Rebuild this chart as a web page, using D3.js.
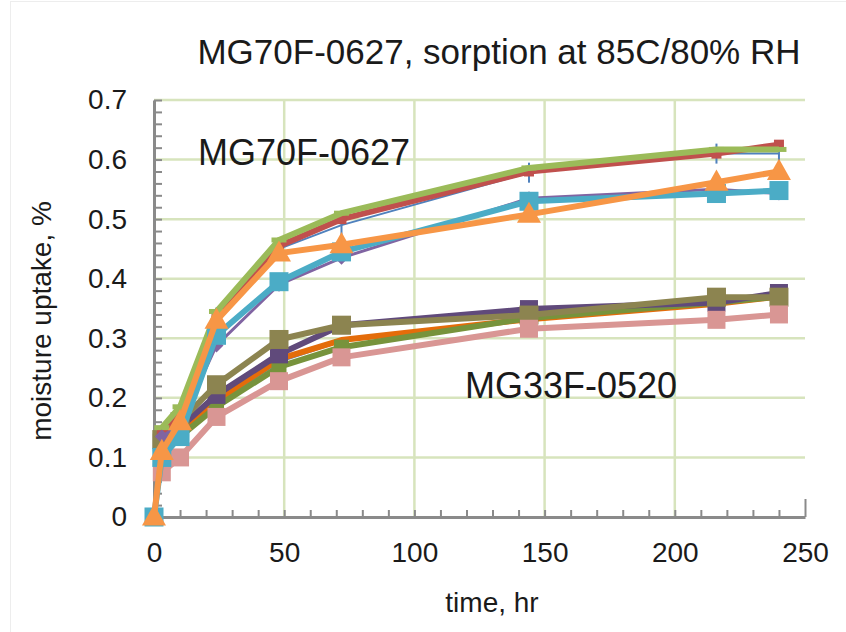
<!DOCTYPE html>
<html>
<head>
<meta charset="utf-8">
<script src="https://cdn.jsdelivr.net/npm/d3@7"></script>
<style>
  body { margin: 0; background: #fff; }
  svg { font-family: "Liberation Sans", Arial, sans-serif; }
</style>
</head>
<body>
<svg id="chart"></svg>
<script>
const width = 846;
const height = 632;

// sampling times, hr
const times = [0, 3, 10, 24, 48, 72, 144, 216, 240];

// MG33F-0520 samples
const g33Blue   = [null, 0.12, 0.14, 0.19, 0.26, 0.295, 0.335, 0.362, 0.37];
const g33Orange = [null, 0.12, 0.145, 0.195, 0.265, 0.297, 0.332, 0.358, 0.37];
const g33Green  = [null, 0.115, 0.135, 0.185, 0.252, 0.285, 0.334, 0.36, 0.37];
const g33Purple = [null, 0.125, 0.15, 0.205, 0.273, 0.322, 0.349, 0.36, 0.376];
const g33Olive  = [null, 0.13, 0.16, 0.222, 0.298, 0.322, 0.339, 0.369, 0.369];
const g33Pink   = [null, 0.075, 0.10, 0.168, 0.228, 0.268, 0.316, 0.331, 0.34];

// MG70F-0627 samples
const g70Blue   = [null, 0.13, 0.165, 0.335, 0.45, 0.49, 0.578, 0.61, 0.61];
const g70Red    = [null, 0.14, 0.17, 0.34, 0.455, 0.50, 0.58, 0.61, 0.625];
const g70Green  = [null, 0.15, 0.185, 0.345, 0.465, 0.51, 0.586, 0.617, 0.617];
const g70Purple = [null, 0.135, 0.155, 0.288, 0.39, 0.435, 0.535, 0.55, 0.543];
const g70Cyan   = [0, 0.10, 0.135, 0.305, 0.395, 0.445, 0.53, 0.543, 0.548];
const g70Orange = [0, 0.11, 0.16, 0.33, 0.443, 0.457, 0.508, 0.562, 0.58];

const xTicks = [0, 50, 100, 150, 200, 250];
const yTicks = [0, 0.1, 0.2, 0.3, 0.4, 0.5, 0.6, 0.7];

// drawing order = Excel series order (later ones sit on top)
const series = [
  { values: g33Blue,   color: "#558ed5", width: 2, marker: "none" },
  { values: g33Orange, color: "#e46c0a", width: 6, marker: "none" },
  { values: g33Green,  color: "#77933c", width: 6, marker: "square", size: 15 },
  { values: g33Purple, color: "#604a7b", width: 6, marker: "square", size: 18 },
  { values: g33Olive,  color: "#8c8450", width: 6, marker: "square", size: 19 },
  { values: g33Pink,   color: "#d99694", width: 6, marker: "square", size: 18 },
  { values: g70Blue,   color: "#4f81bd", width: 2, marker: "bar", size: 20 },
  { values: g70Red,    color: "#c0504d", width: 6, marker: "square", size: 10 },
  { values: g70Green,  color: "#9bbb59", width: 6, marker: "dash", size: 15 },
  { values: g70Purple, color: "#8064a2", width: 3, marker: "diamond", size: 14 },
  { values: g70Cyan,   color: "#4bacc6", width: 6, marker: "square", size: 19 },
  { values: g70Orange, color: "#f79646", width: 6, marker: "triangle", size: 24 }
];

const svg = d3.select("#chart")
  .attr("width", width)
  .attr("height", height);

// faint chart-area border
svg.append("rect")
  .attr("x", 10.5).attr("y", 1.5)
  .attr("width", 850).attr("height", 650)
  .attr("fill", "none")
  .attr("stroke", "#ededed");

const x = d3.scaleLinear().domain([0, 250]).range([154, 805]);
const y = d3.scaleLinear().domain([0, 0.7]).range([517, 100]);

// gridlines
svg.append("g")
  .selectAll("line.hgrid")
  .data(yTicks.slice(1))
  .join("line")
  .attr("x1", x(0)).attr("x2", x(250))
  .attr("y1", d => y(d)).attr("y2", d => y(d))
  .attr("stroke", "#d7e4bd")
  .attr("stroke-width", 2.5);

svg.append("g")
  .selectAll("line.vgrid")
  .data(xTicks.slice(1, -1))
  .join("line")
  .attr("x1", d => x(d)).attr("x2", d => x(d))
  .attr("y1", y(0)).attr("y2", y(0.7))
  .attr("stroke", "#d7e4bd")
  .attr("stroke-width", 2.5);

// minor ticks pointing inward
const xMinor = svg.append("g")
  .attr("transform", `translate(0,${y(0)})`)
  .call(d3.axisBottom(x).tickValues(d3.range(0, 251, 10)).tickSize(-7).tickFormat(""));
xMinor.select(".domain").remove();
xMinor.selectAll("line").attr("stroke", "#8a8a8a").attr("stroke-width", 2);
xMinor.selectAll(".tick").filter(d => d === 250).select("line").attr("y2", -18);

const yMinor = svg.append("g")
  .attr("transform", `translate(${x(0)},0)`)
  .call(d3.axisLeft(y).tickValues(d3.range(0, 0.701, 0.02)).tickSize(-8).tickFormat(""));
yMinor.select(".domain").remove();
yMinor.selectAll("line").attr("stroke", "#8a8a8a").attr("stroke-width", 2);

// axis lines + labels
const xAxis = svg.append("g")
  .attr("transform", `translate(0,${y(0)})`)
  .call(d3.axisBottom(x).tickValues(xTicks).tickSize(0).tickPadding(25));
xAxis.select(".domain").attr("stroke", "#8a8a8a").attr("stroke-width", 3);
xAxis.selectAll("text").attr("font-size", 28).attr("fill", "#1a1a1a")
  .attr("font-family", "Liberation Sans, Arial, sans-serif");

const yAxis = svg.append("g")
  .attr("transform", `translate(${x(0)},0)`)
  .call(d3.axisLeft(y).tickValues(yTicks).tickSize(0).tickPadding(27)
    .tickFormat(d => d === 0 ? "0" : d3.format(".1f")(d)));
yAxis.select(".domain").attr("stroke", "#8a8a8a").attr("stroke-width", 3);
yAxis.selectAll("text").attr("font-size", 28).attr("fill", "#1a1a1a")
  .attr("font-family", "Liberation Sans, Arial, sans-serif");

// series lines
const line = d3.line()
  .defined(d => d.v != null)
  .x(d => x(d.t))
  .y(d => y(d.v));

series.forEach(s => {
  const pts = times.map((t, i) => ({ t: t, v: s.values[i] }));
  const g = svg.append("g");
  g.append("path")
    .datum(pts)
    .attr("d", line)
    .attr("fill", "none")
    .attr("stroke", s.color)
    .attr("stroke-width", s.width)
    .attr("stroke-linejoin", "round");

  const valid = pts.filter(d => d.v != null);
  const sz = s.size;
  if (s.marker === "square") {
    g.selectAll("rect").data(valid).join("rect")
      .attr("x", d => x(d.t) - sz / 2).attr("y", d => y(d.v) - sz / 2)
      .attr("width", sz).attr("height", sz)
      .attr("fill", s.color);
  } else if (s.marker === "dash") {
    g.selectAll("rect").data(valid).join("rect")
      .attr("x", d => x(d.t) - sz / 2).attr("y", d => y(d.v) - 2.5)
      .attr("width", sz).attr("height", 5)
      .attr("fill", s.color);
  } else if (s.marker === "bar") {
    g.selectAll("line.m").data(valid).join("line")
      .attr("x1", d => x(d.t)).attr("x2", d => x(d.t))
      .attr("y1", d => y(d.v) - sz / 2).attr("y2", d => y(d.v) + sz / 2)
      .attr("stroke", s.color).attr("stroke-width", 2);
  } else if (s.marker === "diamond") {
    const r = sz / 2;
    g.selectAll("path.m").data(valid).join("path")
      .attr("class", "m")
      .attr("transform", d => `translate(${x(d.t)},${y(d.v)})`)
      .attr("d", `M0,${-r}L${r},0L0,${r}L${-r},0Z`)
      .attr("fill", s.color);
  } else if (s.marker === "triangle") {
    const w = sz, h = sz * 0.88;
    g.selectAll("path.m").data(valid).join("path")
      .attr("class", "m")
      .attr("transform", d => `translate(${x(d.t)},${y(d.v)})`)
      .attr("d", `M0,${-h * 0.6}L${w / 2},${h * 0.4}L${-w / 2},${h * 0.4}Z`)
      .attr("fill", s.color);
  }
});

// texts
svg.append("text")
  .attr("x", 499).attr("y", 64)
  .attr("text-anchor", "middle")
  .attr("font-size", 35)
  .attr("fill", "#1a1a1a")
  .text("MG70F-0627, sorption at 85C/80% RH");

svg.append("text")
  .attr("x", 198).attr("y", 165)
  .attr("font-size", 36)
  .attr("fill", "#1a1a1a")
  .text("MG70F-0627");

svg.append("text")
  .attr("x", 465).attr("y", 398)
  .attr("font-size", 36)
  .attr("fill", "#1a1a1a")
  .text("MG33F-0520");

svg.append("text")
  .attr("x", 492).attr("y", 612)
  .attr("text-anchor", "middle")
  .attr("font-size", 28)
  .attr("fill", "#1a1a1a")
  .text("time, hr");

svg.append("text")
  .attr("transform", "translate(51,321) rotate(-90)")
  .attr("text-anchor", "middle")
  .attr("font-size", 28)
  .attr("fill", "#1a1a1a")
  .text("moisture uptake, %");
</script>
</body>
</html>
